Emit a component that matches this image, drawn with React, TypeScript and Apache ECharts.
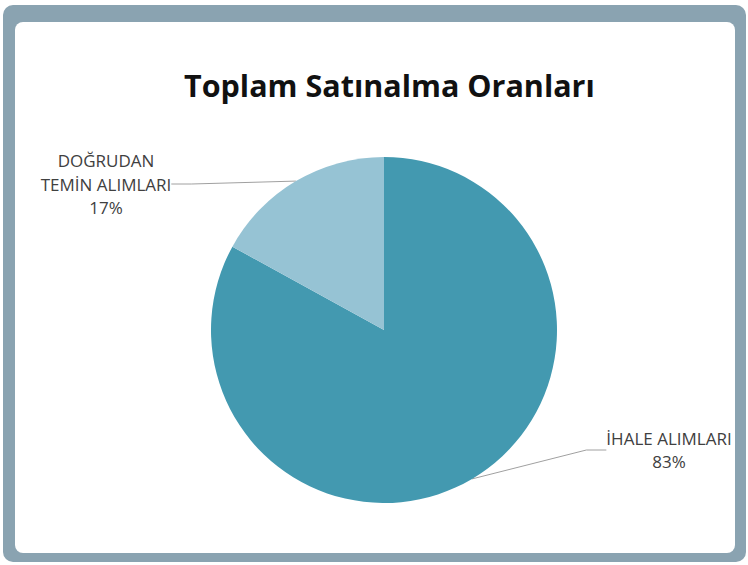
import React, { useEffect, useRef } from "react";
import * as echarts from "echarts";

const categories = ["İHALE ALIMLARI", "DOĞRUDAN\nTEMİN ALIMLARI"];
const values = [83, 17];
const colors = ["#4399b0", "#96c3d4"];
const titleText = "Toplam Satınalma Oranları";

export default function App() {
  const ref = useRef<HTMLDivElement>(null);
  useEffect(() => {
    if (!ref.current) return;
    const chart = echarts.init(ref.current, null, { renderer: "svg" });
    const labelPos = [
      { x: 669, y: 450 },
      { x: 106, y: 184 },
    ];
    chart.setOption({
      animation: false,
      backgroundColor: "#ffffff",
      graphic: [
        {
          type: "rect",
          z: -10,
          shape: { x: 3, y: 5, width: 743, height: 557, r: 10 },
          style: { fill: "#8aa3b1" },
          silent: true,
        },
        {
          type: "rect",
          z: -9,
          shape: { x: 15, y: 22, width: 720, height: 531, r: 8 },
          style: { fill: "#ffffff" },
          silent: true,
        },
      ],
      title: {
        text: titleText,
        left: 179,
        top: 64,
        textStyle: {
          fontFamily: "Open Sans",
          fontWeight: "bold",
          fontSize: 30.5,
          color: "#111111",
        },
      },
      series: [
        {
          type: "pie",
          center: [384, 330],
          radius: 173,
          startAngle: 90,
          clockwise: true,
          data: categories.map((c, i) => ({
            name: c,
            value: values[i],
            itemStyle: { color: colors[i] },
          })),
          label: {
            show: true,
            position: "outside",
            formatter: "{b}\n{d}%",
            fontFamily: "Open Sans",
            fontSize: 17,
            lineHeight: 23.5,
            color: "#404040",
            align: "center",
          },
          labelLine: {
            show: true,
            length: 20,
            length2: 20,
            lineStyle: { color: "#a0a0a0", width: 1 },
          },
          labelLayout: (params: any) => ({
            x: labelPos[params.dataIndex].x,
            y: labelPos[params.dataIndex].y,
            align: "center",
            verticalAlign: "middle",
          }),
          emphasis: { disabled: true },
        },
      ],
    });
    return () => chart.dispose();
  }, []);
  return (
    <div
      ref={ref}
      style={{ position: "absolute", left: 0, top: 0, width: 748, height: 565 }}
    />
  );
}
